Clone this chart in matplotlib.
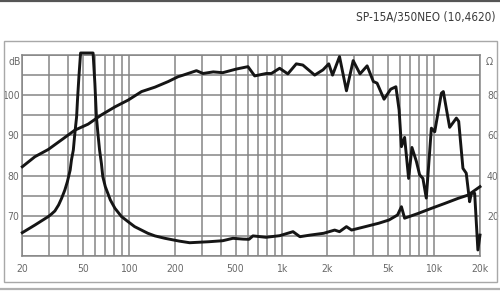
import numpy as np
import matplotlib
matplotlib.use("Agg")
import matplotlib.pyplot as plt
from matplotlib.ticker import FixedLocator, NullFormatter
from matplotlib.patches import Rectangle
from matplotlib.lines import Line2D

plt.rcParams['font.family'] = ['DejaVu Sans']
plt.rcParams['font.stretch'] = 'condensed'

# SPL response (left axis, dB)
spl_freq = [20, 24.2, 29.6, 36.2, 44.2, 54, 66, 81, 99, 121, 148, 181, 210, 227, 277,
            306, 357, 412, 505, 603, 667, 794, 858, 972, 1100, 1250, 1380, 1650, 1870,
            2040, 2160, 2400, 2665, 2950, 3270, 3640, 4000, 4230, 4700, 5200, 5620,
            5900, 6110, 6410, 6810, 7160, 7660, 8040, 8450, 8890, 9600, 10100, 11170,
            11500, 12650, 14000, 14500, 15460, 16250, 17100, 17550, 18450, 19370, 20000]
spl_db = [82.2, 84.7, 86.5, 88.9, 91.3, 92.8, 95.1, 97.1, 98.8, 100.9, 102, 103.4, 104.6,
          105, 106.1, 105.4, 105.8, 105.6, 106.5, 107.1, 104.8, 105.4, 105.4, 106.7,
          105.3, 107.8, 107.5, 105, 106.3, 107.8, 105, 109.6, 101.1, 108.6, 105.3, 107.3,
          103.4, 103, 99, 101.5, 102.1, 96.3, 87.2, 89.5, 79.3, 87, 83.5, 80.2, 79.3,
          74.4, 91.8, 90.9, 100.5, 100.9, 92, 94.3, 93.5, 81.8, 80.6, 73.5, 75.6, 75.6,
          61.5, 65.2]

# impedance (right axis, ohm)
imp_freq = [20, 24.2, 29.6, 31.1, 32.7, 34.6, 36.2, 38, 39.5, 41.2, 42, 43.2, 44.2, 45.4,
            46, 47, 48.2, 58.2, 59.8, 61.2, 62.6, 64.2, 66, 67.4, 70, 75.5, 81, 89.4, 99,
            109, 133, 148, 172, 214, 250, 335, 412, 480, 560, 612, 650, 790, 972, 1190,
            1320, 1540, 1890, 2230, 2400, 2665, 2880, 3540, 4340, 5060, 5760, 6110, 6410,
            7880, 9600, 11800, 14400, 16700, 20000]
imp_ohm = [11.6, 15.4, 19.6, 20.9, 22.4, 25.4, 28.7, 32.8, 37, 42.8, 47.8, 52.7, 61, 69.3,
           77.6, 89.2, 101, 101, 85.9, 69.3, 61, 52.7, 46, 39.5, 34.5, 27.9, 23.7, 19.6,
           17, 14.6, 11.3, 10, 8.8, 7.4, 6.6, 7.1, 7.6, 8.8, 8.4, 8.3, 10, 9.3, 10.1, 12.1,
           9.6, 10.4, 11.3, 12.9, 12.1, 14.6, 12.9, 14.6, 16.3, 17.9, 20.4, 24.5, 18.8,
           21.2, 23.7, 26.2, 28.7, 30.3, 34.5]

x_ticks = [20, 50, 100, 200, 500, 1000, 2000, 5000, 10000, 20000]
x_labels = ['20', '50', '100', '200', '500', '1k', '2k', '5k', '10k', '20k']
db_ticks = [70, 80, 90, 100]
ohm_ticks = [20, 40, 60, 80]

title = 'SP-15A/350NEO (10,4620)'

grid_col = '#858585'
text_col = '#6a6a6a'
curve_col = '#151515'

fig = plt.figure(figsize=(5, 2.91), dpi=100)

# outer frame and border strips
fig.patches.append(Rectangle((0.008, 0.031), 0.986, 0.828, transform=fig.transFigure,
                             fill=False, edgecolor='#a8a8a8', lw=1.0))
fig.lines.append(Line2D([0, 1], [0.996, 0.996], transform=fig.transFigure,
                        color='#555555', lw=1.6))
fig.lines.append(Line2D([0, 1], [0.006, 0.006], transform=fig.transFigure,
                        color='#b0b0b0', lw=1.6))

ax = fig.add_axes([0.0446, 0.1203, 0.9154, 0.6907])
ax.set_xscale('log')
ax.set_xlim(20, 20000)
ax.set_ylim(60, 110)

minor = [m * 10 ** e for e in range(1, 5) for m in range(1, 10)]
minor = [v for v in minor if 20 <= v <= 20000]
ax.xaxis.set_major_locator(FixedLocator(x_ticks))
ax.set_xticklabels(x_labels)
ax.xaxis.set_minor_locator(FixedLocator(minor))
ax.xaxis.set_minor_formatter(NullFormatter())
ax.set_yticks(np.arange(60, 111, 5))
ax.set_yticklabels([str(v) if v in db_ticks else '' for v in np.arange(60, 111, 5)])

ax.grid(True, which='both', axis='x', color=grid_col, lw=1.1)
ax.grid(True, which='major', axis='y', color=grid_col, lw=1.1)
ax.tick_params(which='both', length=0, colors=text_col, labelsize=7.5)
ax.tick_params(axis='x', pad=6)
ax.tick_params(axis='y', pad=2)
for s in ax.spines.values():
    s.set_color(grid_col)
    s.set_linewidth(1.1)

ax.plot(spl_freq, spl_db, color=curve_col, lw=2.1, zorder=3, clip_on=False)

ax2 = ax.twinx()
ax2.set_ylim(0, 100)
ax2.set_yticks(ohm_ticks)
ax2.tick_params(length=0, colors=text_col, labelsize=7.5, pad=5)
for s in ax2.spines.values():
    s.set_visible(False)
ax2.plot(imp_freq, imp_ohm, color=curve_col, lw=2.1, zorder=3, clip_on=False)

ax.text(-0.004, 108.3, 'dB', transform=ax.get_yaxis_transform(), ha='right', va='center',
        color=text_col, fontsize=7.5)
ax2.text(1.013, 96.6, 'Ω', transform=ax2.get_yaxis_transform(), ha='left', va='center',
         color=text_col, fontsize=7.5)

fig.text(0.992, 0.942, title, ha='right', va='center', color='#3a3a3a', fontsize=8.5)

fig.savefig('out.png', dpi=100)
